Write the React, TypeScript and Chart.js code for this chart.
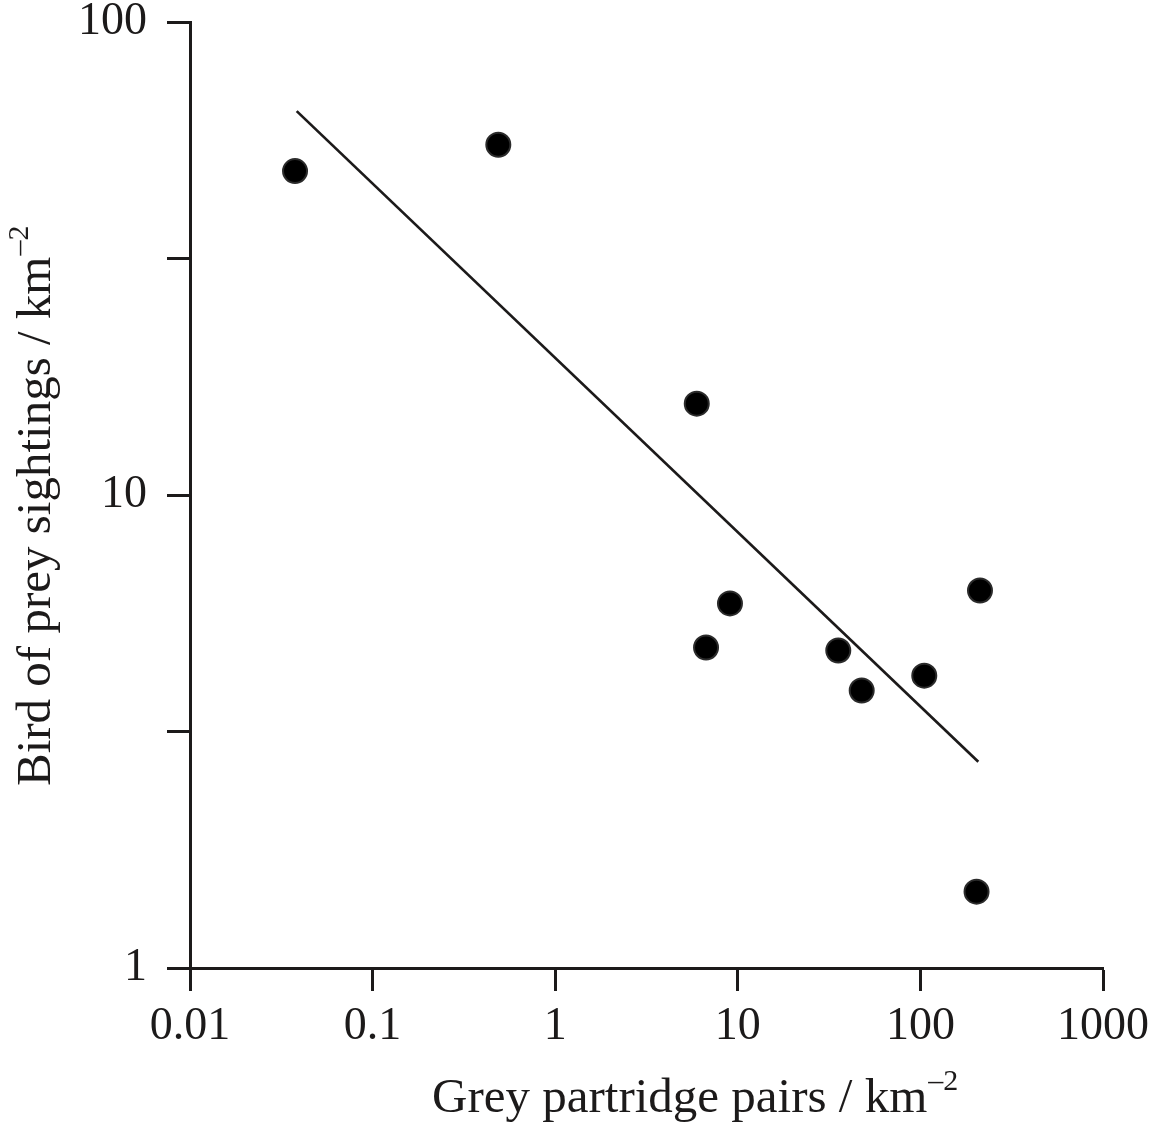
import React, { useEffect, useRef } from "react";
import { Chart, registerables } from "chart.js";

Chart.register(...registerables);

// Grey partridge pairs / km^-2 (x) vs bird of prey sightings / km^-2 (y)
const partridgePairs = [0.0376, 0.488, 5.96, 9.06, 6.7, 35.5, 47.7, 105, 212, 203];
const preySightings = [48.4, 55.0, 15.6, 5.9, 4.76, 4.69, 3.86, 4.15, 6.28, 1.45];

// fitted regression line end points
const fitX = [0.0384, 207.5];
const fitY = [64.8, 2.73];

const xTicks = [0.01, 0.1, 1, 10, 100, 1000];
const xTickLabels = ["0.01", "0.1", "1", "10", "100", "1000"];
const yTicks = [1, 3.1623, 10, 31.623, 100];
const yTickLabels = ["1", "", "10", "", "100"];

const xTitle = "Grey partridge pairs / km";
const yTitle = "Bird of prey sightings / km";
const unitSup = "\u20132";

const FONT = "'Liberation Serif', 'Times New Roman', serif";
const INK = "#1c1a1a";

const titlePlugin = {
  id: "supTitles",
  afterDraw(chart: any) {
    const ctx = chart.ctx as CanvasRenderingContext2D;
    ctx.save();
    ctx.fillStyle = INK;
    ctx.textBaseline = "alphabetic";
    ctx.textAlign = "left";
    // x title
    ctx.font = `49px ${FONT}`;
    const xw = ctx.measureText(xTitle).width;
    const xLeft = 432;
    const xBase = 1112;
    ctx.fillText(xTitle, xLeft, xBase);
    ctx.font = `30px ${FONT}`;
    ctx.fillText(unitSup, xLeft + xw + 1, xBase - 22);
    // y title (rotated)
    ctx.translate(50, 786);
    ctx.rotate(-Math.PI / 2);
    ctx.font = `49px ${FONT}`;
    const yw = ctx.measureText(yTitle).width;
    ctx.fillText(yTitle, 0, 0);
    ctx.font = `30px ${FONT}`;
    ctx.fillText(unitSup, yw + 1, -22);
    ctx.restore();
  },
};

export default function App() {
  const ref = useRef<HTMLCanvasElement | null>(null);
  useEffect(() => {
    if (!ref.current) return;
    const chart = new Chart(ref.current, {
      type: "scatter",
      data: {
        datasets: [
          {
            label: "sites",
            data: partridgePairs.map((x, i) => ({ x, y: preySightings[i] })),
            backgroundColor: "#000000",
            borderColor: "#2b2b2b",
            borderWidth: 2,
            pointRadius: 12,
            pointHoverRadius: 12,
          },
          {
            label: "fit",
            type: "line",
            data: fitX.map((x, i) => ({ x, y: fitY[i] })),
            borderColor: INK,
            borderWidth: 2.7,
            pointRadius: 0,
            fill: false,
          } as any,
        ],
      },
      options: {
        responsive: false,
        animation: false,
        events: [],
        layout: { padding: { top: 22, right: 55, left: 0, bottom: 0 } },
        plugins: {
          legend: { display: false },
          tooltip: { enabled: false },
          title: { display: false },
        },
        scales: {
          x: {
            type: "logarithmic",
            min: 0.01,
            max: 1000,
            afterFit(scale: any) {
              scale.height = 162;
              scale.paddingLeft = 0;
              scale.paddingRight = 0;
            },
            afterBuildTicks(scale: any) {
              scale.ticks = xTicks.map((v) => ({ value: v }));
            },
            border: { display: true, color: INK, width: 3 },
            grid: {
              display: true,
              drawOnChartArea: false,
              drawTicks: true,
              tickLength: 23,
              tickWidth: 3,
              tickColor: INK,
            },
            ticks: {
              autoSkip: false,
              maxRotation: 0,
              padding: 8,
              color: INK,
              font: { family: FONT, size: 46 },
              callback: (value: any) => {
                const i = xTicks.findIndex((t) => Math.abs(t - Number(value)) / t < 1e-6);
                return i >= 0 ? xTickLabels[i] : "";
              },
            },
          },
          y: {
            type: "logarithmic",
            min: 1,
            max: 100,
            afterFit(scale: any) {
              scale.width = 190;
              scale.paddingTop = 0;
              scale.paddingBottom = 0;
            },
            afterBuildTicks(scale: any) {
              scale.ticks = yTicks.map((v) => ({ value: v }));
            },
            border: { display: true, color: INK, width: 3 },
            grid: {
              display: true,
              drawOnChartArea: false,
              drawTicks: true,
              tickLength: 23,
              tickWidth: 3,
              tickColor: INK,
            },
            ticks: {
              autoSkip: false,
              padding: 20,
              color: INK,
              font: { family: FONT, size: 46 },
              callback: (value: any) => {
                const i = yTicks.findIndex((t) => Math.abs(t - Number(value)) / t < 1e-6);
                return i >= 0 ? yTickLabels[i] : "";
              },
            },
          },
        },
      },
      plugins: [titlePlugin],
    });
    return () => chart.destroy();
  }, []);
  return (
    <div style={{ position: "absolute", left: 0, top: 0, width: 1158, height: 1130, background: "#fff" }}>
      <canvas ref={ref} width={1158} height={1130} style={{ width: 1158, height: 1130, display: "block" }} />
    </div>
  );
}
